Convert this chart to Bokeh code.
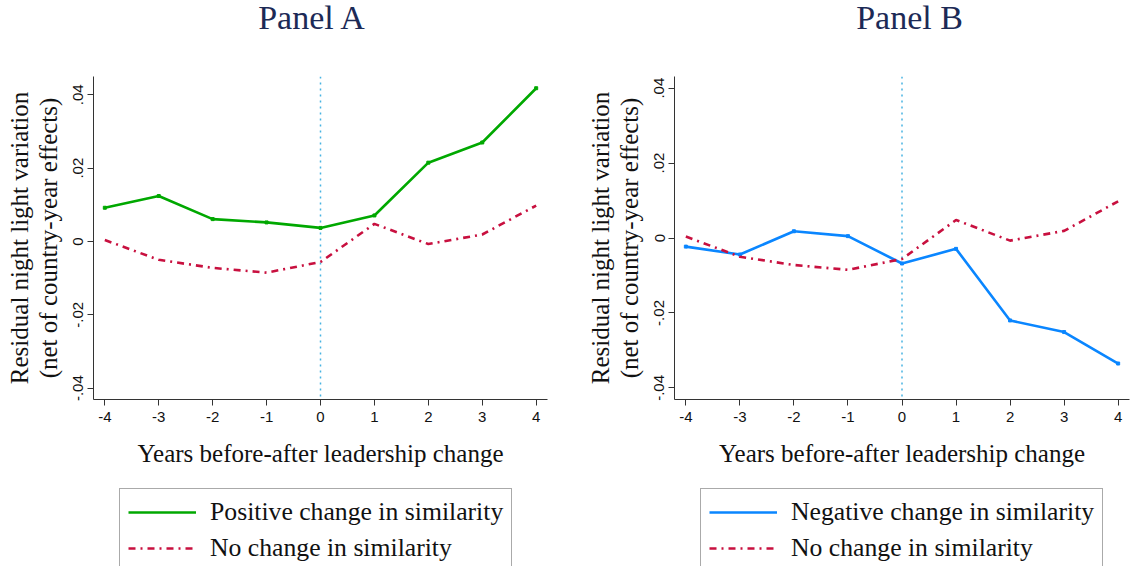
from bokeh.plotting import figure
from bokeh.models import Span, Legend, LegendItem, FixedTicker, Range1d, Label
from bokeh.layouts import row, column
from bokeh.embed import file_html
from bokeh.resources import INLINE

years = [-4, -3, -2, -1, 0, 1, 2, 3, 4]
positive_change = [0.0092, 0.0124, 0.0061, 0.0052, 0.0037, 0.0071, 0.0215, 0.0270, 0.0418]
negative_change = [-0.0023, -0.0044, 0.0018, 0.0005, -0.0068, -0.0029, -0.0220, -0.0251, -0.0335]
no_change = [0.0004, -0.0050, -0.0072, -0.0085, -0.0056, 0.0048, -0.0007, 0.0019, 0.0098]

y_ticks = [-0.04, -0.02, 0.0, 0.02, 0.04]
y_tick_labels = ["-.04", "-.02", "0", ".02", ".04"]
x_ticks = years
x_tick_labels = ["-4", "-3", "-2", "-1", "0", "1", "2", "3", "4"]

titles = ["Panel A", "Panel B"]
y_label = "Residual night light variation\n(net of country-year effects)"
x_label = "Years before-after leadership change"
legend_pos = "Positive change in similarity"
legend_neg = "Negative change in similarity"
legend_none = "No change in similarity"

GREEN = "#00a800"
BLUE = "#0a86ff"
RED = "#c8103f"
VLINE = "#47b3e2"
TITLE = "#1c2a56"
SERIF = "Liberation Serif"
SANS = "Liberation Sans"

TITLE_H = 56
MAIN_H = 430
FRAME_H = 323
TOP = 20
LEG_FIG_H = 80
RED_DASH = "7 5 2 5"
LEFT = 93


def make_panel(title, title_x, series, color, label, ymin, ymax, width, frame_width, right_border):
    # title strip
    tf = figure(width=width, height=TITLE_H, output_backend="svg", toolbar_location=None,
                x_axis_type=None, y_axis_type=None,
                x_range=Range1d(0, 1), y_range=Range1d(0, 1),
                min_border_left=LEFT, min_border_right=right_border,
                min_border_top=0, min_border_bottom=0, frame_width=frame_width)
    tf.outline_line_color = None
    tf.add_layout(Label(x=title_x, y=TITLE_H - 17, x_units="screen", y_units="screen",
                        text=title, text_align="center", text_baseline="middle",
                        text_font=SERIF, text_font_size="34px", text_color=TITLE))

    p = figure(width=width, height=MAIN_H, output_backend="svg", toolbar_location=None,
               x_range=Range1d(-4.21, 4.21), y_range=Range1d(ymin, ymax),
               min_border_left=LEFT, min_border_right=right_border,
               min_border_top=TOP, min_border_bottom=MAIN_H - TOP - FRAME_H,
               frame_width=frame_width, frame_height=FRAME_H)
    p.outline_line_color = None
    p.xgrid.visible = False
    p.ygrid.visible = False

    p.xaxis.ticker = FixedTicker(ticks=x_ticks)
    p.xaxis.major_label_overrides = {t: l for t, l in zip(x_ticks, x_tick_labels)}
    p.yaxis.ticker = FixedTicker(ticks=y_ticks)
    p.yaxis.major_label_overrides = {t: l for t, l in zip(y_ticks, y_tick_labels)}
    p.yaxis.major_label_orientation = "parallel"
    for ax in (p.xaxis[0], p.yaxis[0]):
        ax.minor_tick_line_color = None
        ax.major_tick_in = 0
        ax.major_tick_out = 6
        ax.axis_line_color = "#333333"
        ax.major_tick_line_color = "#333333"
        ax.major_label_text_font = SANS
        ax.major_label_text_font_size = "15px"
        ax.major_label_text_color = "#111111"
        ax.axis_label_text_font = SERIF
        ax.axis_label_text_font_size = "25px"
        ax.axis_label_text_font_style = "normal"
        ax.axis_label_text_color = "#111111"
        ax.axis_label_text_line_height = 1.05
    p.xaxis.axis_label = x_label
    p.xaxis.major_label_standoff = 6
    p.xaxis.axis_label_standoff = 15
    p.yaxis.axis_label = y_label
    p.yaxis.major_label_standoff = 4
    p.yaxis.axis_label_standoff = 9

    vline = Span(location=0, dimension="height", line_color=VLINE, line_width=1.5,
                 line_dash="2 4", level="underlay")
    p.add_layout(vline)

    p.line(years, series, line_color=color, line_width=2.6)
    p.scatter(years, series, marker="square", size=3, color=color)
    p.line(years, no_change, line_color=RED, line_width=2.6, line_dash=RED_DASH)

    # legend strip below the panel (keys drawn out of view, only legend visible)
    lf = figure(width=width, height=LEG_FIG_H, output_backend="svg", toolbar_location=None,
                x_axis_type=None, y_axis_type=None,
                x_range=Range1d(100, 101), y_range=Range1d(100, 101),
                min_border_left=LEFT, min_border_right=right_border,
                min_border_top=0, min_border_bottom=0, frame_width=frame_width)
    lf.outline_line_color = None
    k1 = lf.line(years, series, line_color=color, line_width=2.4)
    k2 = lf.line(years, no_change, line_color=RED, line_width=2.4, line_dash=RED_DASH)
    legend = Legend(items=[LegendItem(label=label, renderers=[k1]),
                           LegendItem(label=legend_none, renderers=[k2])],
                    location=(26, -6), orientation="vertical",
                    border_line_color="#555555", border_line_width=1.2,
                    label_text_font=SERIF, label_text_font_size="25.7px",
                    label_text_color="#111111", label_text_line_height=1.0,
                    background_fill_alpha=0,
                    glyph_width=68, glyph_height=28, label_height=28,
                    spacing=6, padding=8, label_standoff=14, margin=0)
    lf.add_layout(legend)
    return column(tf, p, lf, spacing=0)


pa = make_panel(titles[0], 219, positive_change, GREEN, legend_pos, -0.0431, 0.045, 581, 454, 34)
pb = make_panel(titles[1], 235, negative_change, BLUE, legend_neg, -0.0431, 0.0431, 552, 455, 4)

layout = row(pa, pb, spacing=0)
open("out.html", "w").write(file_html(layout, INLINE))
